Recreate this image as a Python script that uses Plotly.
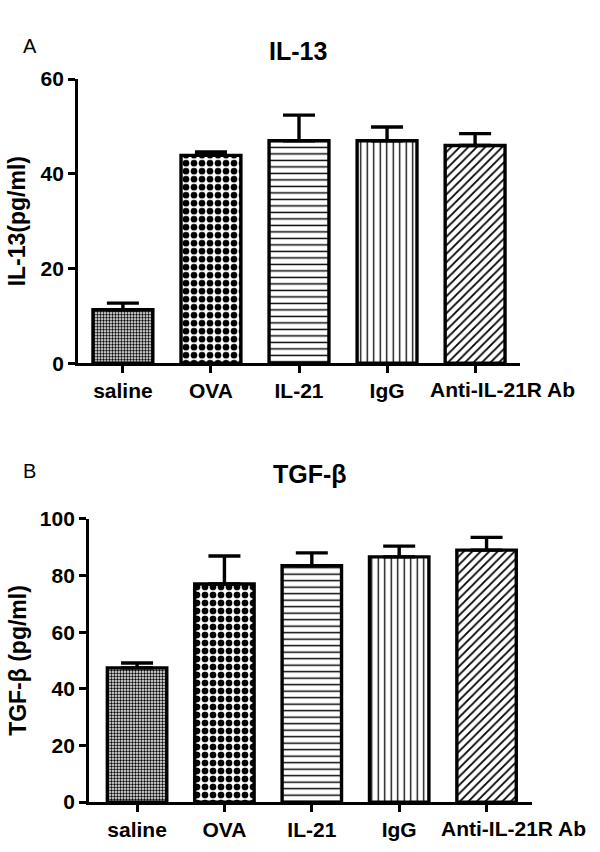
import plotly.graph_objects as go

categories = ["saline", "OVA", "IL-21", "IgG", "Anti-IL-21R Ab"]
il13_values = [11.3, 43.9, 47.0, 47.0, 46.0]
il13_err = [1.4, 0.7, 5.4, 2.9, 2.5]
tgfb_values = [47.4, 77.0, 83.5, 86.6, 89.0]
tgfb_err = [1.7, 9.9, 4.5, 3.8, 4.5]
il13_ticks = [0, 20, 40, 60]
tgfb_ticks = [0, 20, 40, 60, 80, 100]

# the last label sits to the right of its tick in the reference, so it is
# drawn as an annotation tied to its category
x_ticktext = categories[:-1] + [""]

pat_shapes = [".", ".", "-", "|", "/"]
pat_sizes = [3, 8, 6.5, 6.5, 6]
pat_solid = [0.5, 0.55, 0.22, 0.2, 0.3]

FONT = "Arial, Liberation Sans, sans-serif"
W, H = 600, 852


def px_x(p):
    return p / W


def px_y(p):
    return 1 - p / H


fig = go.Figure()


def add_bars(vals, errs, xa, ya):
    fig.add_trace(go.Bar(
        x=categories, y=vals, xaxis=xa, yaxis=ya, width=0.68,
        marker=dict(
            color="white",
            line=dict(color="black", width=3.4),
            pattern=dict(shape=pat_shapes, size=pat_sizes, solidity=pat_solid,
                         fgcolor="black", bgcolor="white", fillmode="replace"),
        ),
        error_y=dict(type="data", array=errs, arrayminus=[0] * len(errs),
                     symmetric=False, color="black", thickness=3.4, width=16),
        showlegend=False, hoverinfo="skip",
    ))


add_bars(il13_values, il13_err, "x", "y")
add_bars(tgfb_values, tgfb_err, "x2", "y2")

tickfont = dict(family=FONT, size=21, color="black", weight="bold")
xcommon = dict(type="category", showline=True, linecolor="black", linewidth=2.8,
               ticks="outside", ticklen=7, tickwidth=2.8, tickcolor="black",
               showgrid=False, zeroline=False, fixedrange=True, tickangle=0,
               tickvals=categories, ticktext=x_ticktext, tickfont=tickfont)
ycommon = dict(showline=True, linecolor="black", linewidth=2.8,
               ticks="outside", ticklen=7, tickwidth=2.8, tickcolor="black",
               showgrid=False, zeroline=False, fixedrange=True, tickfont=tickfont,
               title_font=dict(family=FONT, size=23, color="black", weight="bold"))

annotations = [
    dict(text="A", x=px_x(21), y=px_y(22), xref="paper", yref="paper",
         showarrow=False, font=dict(family=FONT, size=20, color="black")),
    dict(text="IL-13", x=px_x(298), y=px_y(24), xref="paper", yref="paper",
         showarrow=False, font=dict(family=FONT, size=25, color="black", weight="bold")),
    dict(text="B", x=px_x(21), y=px_y(472), xref="paper", yref="paper",
         showarrow=False, font=dict(family=FONT, size=20, color="black")),
    dict(text="TGF-β", x=px_x(310), y=px_y(475), xref="paper", yref="paper",
         showarrow=False, font=dict(family=FONT, size=25, color="black", weight="bold")),
]
for xr, yr in (("x", "y"), ("x2", "y2")):
    annotations.append(dict(
        text=categories[-1], x=categories[-1], y=0, xref=xr, yref=yr,
        xanchor="center", yanchor="top", xshift=27, yshift=-13,
        showarrow=False, font=tickfont))

fig.update_layout(
    width=W, height=H, margin=dict(l=0, r=0, t=0, b=0),
    paper_bgcolor="white", plot_bgcolor="white",
    font=dict(family=FONT, color="black"),
    hovermode=False, dragmode=False,
    xaxis=dict(xcommon, domain=[px_x(78), px_x(520)], range=[-0.51, 4.51], anchor="y"),
    yaxis=dict(ycommon, domain=[px_y(361), px_y(69)], range=[0, 60],
               tickvals=il13_ticks, anchor="x",
               title=dict(text="IL-13(pg/ml)", standoff=9)),
    xaxis2=dict(xcommon, domain=[px_x(89), px_x(532)], range=[-0.55, 4.52], anchor="y2"),
    yaxis2=dict(ycommon, domain=[px_y(812), px_y(521)], range=[0, 100],
                tickvals=tgfb_ticks, anchor="x2",
                title=dict(text="TGF-β (pg/ml)", standoff=7)),
    annotations=annotations,
)

fig.write_html("out.html", config={"displayModeBar": False},
               post_script="document.body.style.margin='0';document.body.style.overflow='hidden';")
